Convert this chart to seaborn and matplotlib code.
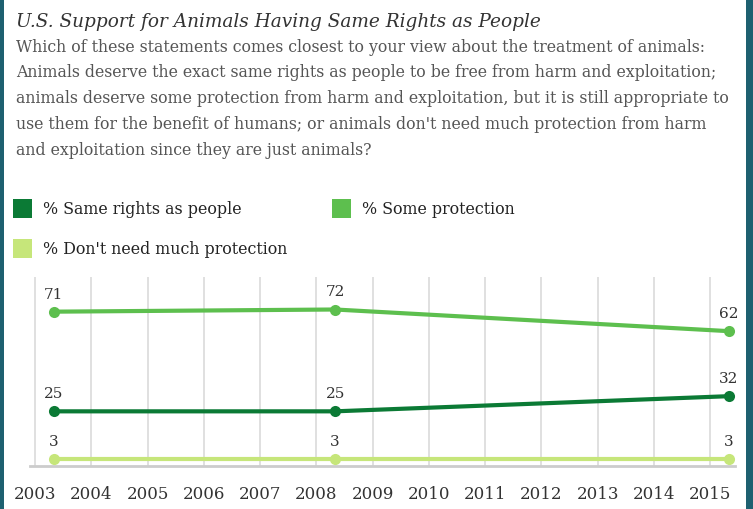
import matplotlib
matplotlib.use("Agg")
import matplotlib.pyplot as plt
from matplotlib.patches import Rectangle
import seaborn as sns
import pandas as pd

# ---- data ----
years = [2003, 2008, 2015]
months = [5, 5, 5]
same_rights = [25, 25, 32]
some_protection = [71, 72, 62]
dont_need = [3, 3, 3]
series_names = ["% Same rights as people", "% Some protection", "% Don't need much protection"]
tick_years = list(range(2003, 2016))

title = "U.S. Support for Animals Having Same Rights as People"
subtitle_lines = [
    "Which of these statements comes closest to your view about the treatment of animals:",
    "Animals deserve the exact same rights as people to be free from harm and exploitation;",
    "animals deserve some protection from harm and exploitation, but it is still appropriate to",
    "use them for the benefit of humans; or animals don't need much protection from harm",
    "and exploitation since they are just animals?",
]

colors = ["#0b7a35", "#5dbf4e", "#c6e67a"]

# ---- frame ----
xdate = [y + (m - 1) / 12 for y, m in zip(years, months)]
rows = []
for name, vals in zip(series_names, [same_rights, some_protection, dont_need]):
    for x, v in zip(xdate, vals):
        rows.append({"date": x, "value": v, "series": name})
df = pd.DataFrame(rows)

sns.set_style("white")
plt.rcParams["font.family"] = ["DejaVu Serif"]

W, H = 753, 510
fig = plt.figure(figsize=(W / 100, H / 100), dpi=100)
fig.patch.set_facecolor("white")

def fx(px):
    return px / W

def fy(py):
    return 1 - py / H

ax = fig.add_axes([fx(30), fy(466.5), fx(735 - 30), fy(278) - fy(466.5)])
ax.set_xlim(2002.91, 2015.44)
ax.set_ylim(0, 87)

for t in tick_years:
    ax.axvline(t, color="#dadada", lw=1.2, zorder=0)

sns.lineplot(data=df, x="date", y="value", hue="series", palette=colors,
             hue_order=series_names, lw=3.0, marker="o", markersize=8,
             markeredgewidth=0, legend=False, ax=ax, zorder=3)

for name, vals, c in zip(series_names, [same_rights, some_protection, dont_need], colors):
    for x, v in zip(xdate, vals):
        ax.annotate(str(v), (x, v), xytext=(0, 8), textcoords="offset points",
                    ha="center", va="bottom", fontsize=11, color="#333333")

for s in ["left", "right", "top"]:
    ax.spines[s].set_visible(False)
ax.spines["bottom"].set_color("#cccccc")
ax.spines["bottom"].set_linewidth(2)
ax.set_yticks([])
ax.set_xticks(tick_years)
ax.set_xticklabels([str(t) for t in tick_years], fontsize=12, color="#333333")
ax.tick_params(axis="x", length=0, pad=14)
ax.set_xlabel("")
ax.set_ylabel("")
ax.grid(False)

# ---- title / subtitle ----
fig.text(fx(16), fy(22), title, fontsize=13.3, style="italic", color="#333333",
         va="center", ha="left")
for i, line in enumerate(subtitle_lines):
    fig.text(fx(16), fy(47 + i * 25.8), line, fontsize=11.3, color="#555555",
             va="center", ha="left")

# ---- legend ----
leg_pos = [(13, 209.5), (332, 209.5), (13, 249.5)]
for (lx, ly), name, c in zip(leg_pos, series_names, colors):
    fig.patches.append(Rectangle((fx(lx), fy(ly + 9.5)), fx(19), fy(0) - fy(19),
                                 transform=fig.transFigure, facecolor=c,
                                 edgecolor="none"))
    fig.text(fx(lx + 30), fy(ly), name, fontsize=11.4, color="#222222",
             va="center", ha="left")

# ---- border stripes ----
border = "#1e6070"
fig.patches.append(Rectangle((0, 0), fx(4), 1, transform=fig.transFigure,
                             facecolor=border, edgecolor="none"))
fig.patches.append(Rectangle((fx(746), 0), fx(7), 1, transform=fig.transFigure,
                             facecolor=border, edgecolor="none"))

fig.savefig("out.png", dpi=100)
